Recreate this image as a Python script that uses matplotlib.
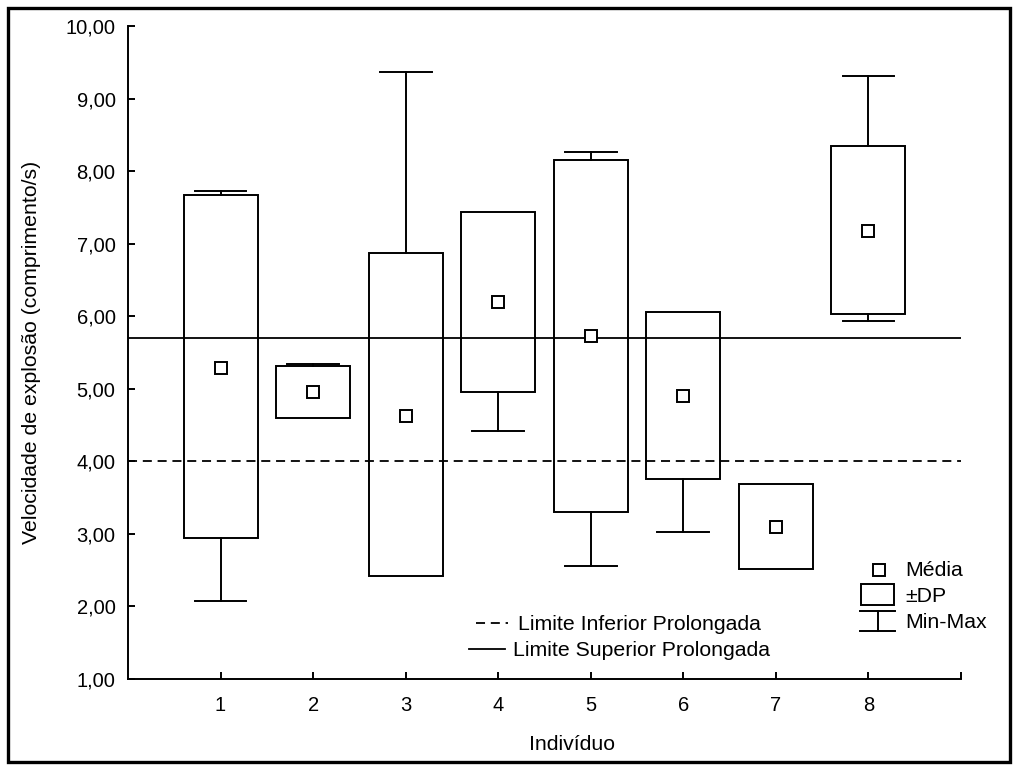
import matplotlib
matplotlib.use("Agg")
import matplotlib.pyplot as plt
from matplotlib.patches import Rectangle
from matplotlib.lines import Line2D
from matplotlib.ticker import FuncFormatter

# Explosion speed per individual: mean, mean ± SD box and min/max whiskers
individuos = [1, 2, 3, 4, 5, 6, 7, 8]
media = [5.28, 4.95, 4.63, 6.19, 5.73, 4.90, 3.10, 7.17]
dp_sup = [7.67, 5.31, 6.87, 7.43, 8.15, 6.06, 3.69, 8.34]
dp_inf = [2.94, 4.60, 2.42, 4.96, 3.30, 3.75, 2.52, 6.03]
minimo = [2.07, 4.60, 2.42, 4.42, 2.56, 3.02, 2.52, 5.94]
maximo = [7.72, 5.34, 9.36, 7.43, 8.26, 6.06, 3.69, 9.31]

limite_inferior = 4.00
limite_superior = 5.70

y_ticks = [1, 2, 3, 4, 5, 6, 7, 8, 9, 10]
x_ticks = [1, 2, 3, 4, 5, 6, 7, 8, 9]
x_tick_labels = ["1", "2", "3", "4", "5", "6", "7", "8", ""]

plt.rcParams["font.family"] = ["Liberation Sans", "DejaVu Sans"]
FS_TICK = 14.5
FS = 15.3
LW = 1.4
BOX_W = 0.8
CAP_W = 0.56

W, H = 1016, 765
fig = plt.figure(figsize=(W / 100, H / 100), dpi=100)
ax = fig.add_axes([128 / W, 1 - 679 / H, (961 - 128) / W, (679 - 26) / H])

for xi, m, hi, lo, mn, mx in zip(individuos, media, dp_sup, dp_inf, minimo, maximo):
    ax.add_patch(Rectangle((xi - BOX_W / 2, lo), BOX_W, hi - lo,
                           fill=False, edgecolor="black", lw=LW, zorder=3))
    if mx > hi:
        ax.plot([xi, xi], [hi, mx], color="black", lw=LW, zorder=3)
        ax.plot([xi - CAP_W / 2, xi + CAP_W / 2], [mx, mx], color="black", lw=LW, zorder=3)
    if mn < lo:
        ax.plot([xi, xi], [mn, lo], color="black", lw=LW, zorder=3)
        ax.plot([xi - CAP_W / 2, xi + CAP_W / 2], [mn, mn], color="black", lw=LW, zorder=3)
    ax.plot([xi], [m], marker="s", ms=8, mfc="white", mec="black", mew=LW,
            ls="none", zorder=4)

ax.axhline(limite_inferior, color="black", lw=1.3, ls=(0, (5, 3.2)), zorder=2)
ax.axhline(limite_superior, color="black", lw=1.3, zorder=2)

ax.set_xlim(0, 9)
ax.set_ylim(1, 10)
ax.set_xticks(x_ticks)
ax.set_xticklabels(x_tick_labels)
ax.set_yticks(y_ticks)
ax.yaxis.set_major_formatter(FuncFormatter(lambda v, p: f"{v:.2f}".replace(".", ",")))
ax.tick_params(direction="in", length=5, width=LW, labelsize=FS_TICK, color="black")
ax.tick_params(axis="y", pad=9)
ax.tick_params(axis="x", pad=12)
for s in ("top", "right"):
    ax.spines[s].set_visible(False)
for s in ("left", "bottom"):
    ax.spines[s].set_linewidth(LW)

ax.set_xlabel("Indivíduo", fontsize=FS)
ax.xaxis.set_label_coords((572 - 128) / 833, -(745 - 679) / 653)
ax.xaxis.label.set_va("center")
ax.set_ylabel("Velocidade de explosão (comprimento/s)", fontsize=FS)
ax.yaxis.set_label_coords(-(128 - 32) / 833, (679 - 352) / 653)
ax.yaxis.label.set_va("center")


def to_ax(px, py):
    return (px - 128) / 833, (679 - py) / 653


# reference-line legend
tr = ax.transAxes
x0, y0 = to_ax(476, 623)
x1, _ = to_ax(508, 623)
ax.add_line(Line2D([x0, x1], [y0, y0], transform=tr, color="black", lw=1.3,
                   ls=(0, (5, 3.2)), clip_on=False))
tx, ty = to_ax(518, 624)
ax.text(tx, ty, "Limite Inferior Prolongada", transform=tr, fontsize=FS, va="center")
x0, y0 = to_ax(469, 649)
x1, _ = to_ax(505, 649)
ax.add_line(Line2D([x0, x1], [y0, y0], transform=tr, color="black", lw=1.3, clip_on=False))
tx, ty = to_ax(513, 650)
ax.text(tx, ty, "Limite Superior Prolongada", transform=tr, fontsize=FS, va="center")

# statistics legend
mx_, my_ = to_ax(879, 570)
ax.plot([mx_], [my_], transform=tr, marker="s", ms=8, mfc="white", mec="black",
        mew=LW, ls="none", clip_on=False)
tx, ty = to_ax(905, 571)
ax.text(tx, ty, "Média", transform=tr, fontsize=FS, va="center")
rx0, ry0 = to_ax(861, 605)
rx1, ry1 = to_ax(894, 584)
ax.add_patch(Rectangle((rx0, ry0), rx1 - rx0, ry1 - ry0, transform=tr, fill=False,
                       edgecolor="black", lw=LW, clip_on=False))
tx, ty = to_ax(905, 596)
ax.text(tx, ty, "±DP", transform=tr, fontsize=FS, va="center")
cx0, cy_top = to_ax(860, 611)
cx1, cy_bot = to_ax(895, 631)
cxm, _ = to_ax(878, 611)
ax.add_line(Line2D([cx0, cx1], [cy_top, cy_top], transform=tr, color="black", lw=LW, clip_on=False))
ax.add_line(Line2D([cx0, cx1], [cy_bot, cy_bot], transform=tr, color="black", lw=LW, clip_on=False))
ax.add_line(Line2D([cxm, cxm], [cy_top, cy_bot], transform=tr, color="black", lw=LW, clip_on=False))
tx, ty = to_ax(905, 623)
ax.text(tx, ty, "Min-Max", transform=tr, fontsize=FS, va="center")

# outer frame around the whole figure
fig.add_artist(Rectangle((7.5 / W, 1 - 762 / H), (1010 - 7.5) / W, (762 - 7.5) / H,
                         transform=fig.transFigure, fill=False, edgecolor="black",
                         lw=2.4))

fig.savefig("out.png", dpi=100)
